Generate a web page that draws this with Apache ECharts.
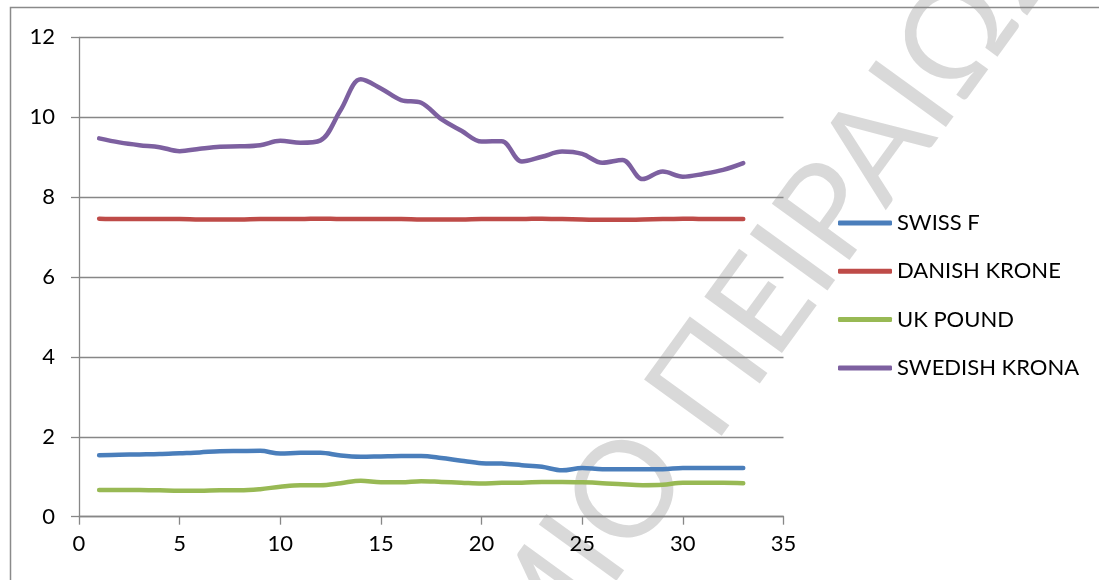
<!DOCTYPE html>
<html>
<head>
<meta charset="utf-8">
<script src="https://cdn.jsdelivr.net/npm/echarts@6/dist/echarts.min.js"></script>
<style>
  html, body { margin: 0; padding: 0; background: #ffffff; }
  #chart { width: 1099px; height: 580px; }
</style>
</head>
<body>
<div id="chart"></div>
<script>
// Observation index (1..33) for each currency rate against the euro
const periods = [1,2,3,4,5,6,7,8,9,10,11,12,13,14,15,16,17,18,19,20,21,22,23,24,25,26,27,28,29,30,31,32,33];

const swissF = [1.54,1.55,1.56,1.57,1.59,1.61,1.64,1.645,1.65,1.58,1.60,1.60,1.53,1.50,1.51,1.52,1.52,1.47,1.40,1.34,1.33,1.29,1.25,1.16,1.22,1.19,1.19,1.19,1.19,1.22,1.22,1.22,1.22];
const danishKrone = [7.46,7.45,7.45,7.45,7.45,7.44,7.44,7.44,7.45,7.45,7.45,7.46,7.45,7.45,7.45,7.45,7.44,7.44,7.44,7.45,7.45,7.45,7.46,7.45,7.44,7.43,7.43,7.44,7.45,7.46,7.45,7.45,7.45];
const ukPound = [0.67,0.67,0.67,0.66,0.65,0.65,0.66,0.66,0.69,0.75,0.79,0.79,0.84,0.90,0.86,0.86,0.89,0.87,0.85,0.83,0.85,0.85,0.87,0.87,0.86,0.84,0.81,0.79,0.80,0.85,0.85,0.85,0.84];
const swedishKrona = [9.47,9.37,9.30,9.25,9.15,9.21,9.26,9.27,9.30,9.41,9.36,9.42,10.18,10.95,10.72,10.43,10.36,9.95,9.66,9.39,9.40,8.89,9.01,9.14,9.08,8.86,8.93,8.45,8.64,8.51,8.58,8.68,8.85];

const seriesNames = ['SWISS F', 'DANISH KRONE', 'UK POUND', 'SWEDISH KRONA'];
const seriesColors = ['#4a7ebb', '#be4b48', '#98b954', '#7d60a0'];
const seriesValues = [swissF, danishKrone, ukPound, swedishKrona];

const xTicks = { min: 0, max: 35, interval: 5 };
const yTicks = { min: 0, max: 12, interval: 2 };

const labelFont = 'Lato';
const axisGray = '#878787';

// Watermark text and its placement: the centre of the final "Ο" of the
// first word sits at wmAnchor, the line of text rising at wmAngle.
const wmHead = 'ΠΑΝΕΠΙΣΤΗΜΙ';
const wmText = 'ΠΑΝΕΠΙΣΤΗΜΙΟ ΠΕΙΡΑΙΩΣ';
const wmFont = 'Lato';
const wmSize = 134;
const wmAnchor = [623, 488];
const wmAngle = 54 * Math.PI / 180;
const wmFill = 'rgba(120,120,120,0.28)';

const measureCtx = document.createElement('canvas').getContext('2d');
measureCtx.font = wmSize + 'px ' + wmFont;
const wmLead = measureCtx.measureText(wmHead).width + measureCtx.measureText('Ο').width / 2;

const chart = echarts.init(document.getElementById('chart'), null, { renderer: 'canvas' });

const series = seriesNames.map((name, i) => ({
  name,
  type: 'line',
  data: periods.map((p, j) => [p, seriesValues[i][j]]),
  smooth: 0.35,
  showSymbol: false,
  symbol: 'none',
  lineStyle: { color: seriesColors[i], width: 4.5, cap: 'round', join: 'round' },
  itemStyle: { color: seriesColors[i] },
  emphasis: { disabled: true },
  animation: false
}));

chart.setOption({
  animation: false,
  backgroundColor: '#ffffff',
  grid: { left: 79, right: 315.5, top: 37.3, bottom: 63.3, containLabel: false },
  xAxis: {
    type: 'value',
    min: xTicks.min, max: xTicks.max, interval: xTicks.interval,
    axisLine: { show: true, onZero: false, lineStyle: { color: axisGray, width: 1.3 } },
    axisTick: { show: true, length: 8, lineStyle: { color: axisGray, width: 1.3 } },
    splitLine: { show: false },
    axisLabel: { color: '#000', fontFamily: labelFont, fontSize: 22, margin: 16 }
  },
  yAxis: {
    type: 'value',
    min: yTicks.min, max: yTicks.max, interval: yTicks.interval,
    axisLine: { show: true, lineStyle: { color: axisGray, width: 1.3 } },
    axisTick: { show: true, length: 8, lineStyle: { color: axisGray, width: 1.3 } },
    splitLine: { show: true, lineStyle: { color: axisGray, width: 1.3 } },
    axisLabel: { color: '#000', fontFamily: labelFont, fontSize: 22, margin: 24 }
  },
  legend: {
    orient: 'vertical',
    left: 833,
    top: 206,
    itemWidth: 54,
    itemHeight: 5,
    itemGap: 24.3,
    icon: 'roundRect',
    selectedMode: false,
    textStyle: { color: '#000', fontFamily: labelFont, fontSize: 22, lineHeight: 24, padding: [0, 0, 0, 0] },
    data: seriesNames
  },
  graphic: [
    {
      type: 'rect',
      silent: true,
      z: 100,
      shape: { x: 10.5, y: 7.5, width: 1200, height: 700 },
      style: { fill: 'none', stroke: '#8a8a8a', lineWidth: 1.5 }
    },
    {
      // faint diagonal university watermark across the plot
      type: 'group',
      x: wmAnchor[0],
      y: wmAnchor[1],
      rotation: wmAngle,
      silent: true,
      z: 200,
      children: [
        {
          type: 'text',
          x: -wmLead, y: 6,
          style: { text: wmText, fontSize: wmSize, fontFamily: wmFont, fill: wmFill, align: 'left', verticalAlign: 'middle' }
        }
      ]
    }
  ],
  series
});
</script>
</body>
</html>
